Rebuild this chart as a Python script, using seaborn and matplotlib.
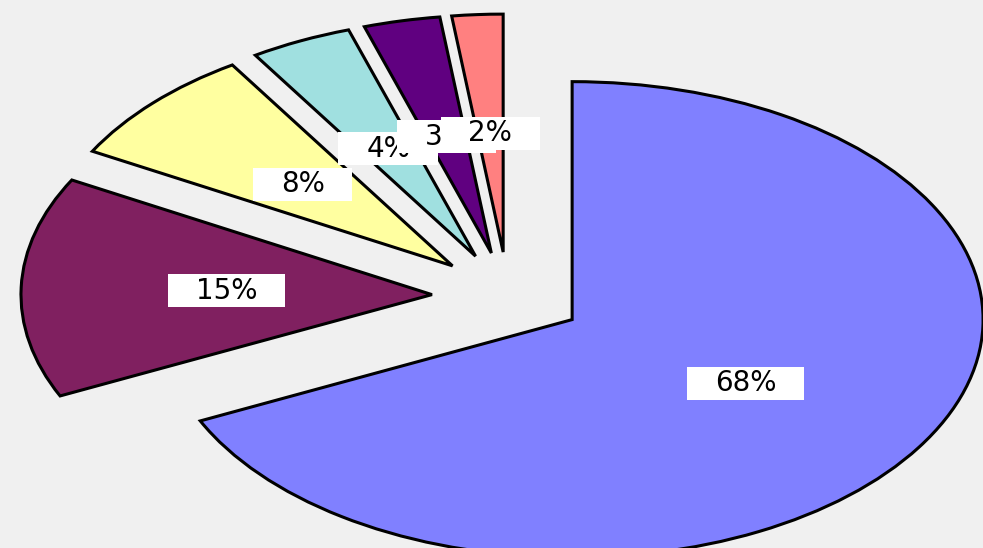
import matplotlib.pyplot as plt
import seaborn as sns
from matplotlib.path import Path

# slice shares (percent), drawn clockwise from 12 o'clock
shares = [68, 15, 8, 4, 3, 2]
slice_colors = ["#8080FF", "#802060", "#FFFFA0", "#A0E0E0", "#600080", "#FF8080"]


def label_box(x0, y0, width, height, mutation_size):
    # wide white box, little vertical padding (old Excel style)
    px, py = 1.0 * mutation_size, 0.09 * mutation_size
    x1, y1 = x0 + width + px, y0 + height + py
    x0, y0 = x0 - px, y0 - py
    return Path([(x0, y0), (x1, y0), (x1, y1), (x0, y1), (x0, y0)], closed=True)


sns.set_style("white")
bg = "#F0F0F0"

fig = plt.figure(figsize=(9.83, 5.48), dpi=100, facecolor=bg)
ax = fig.add_axes([0, 0, 1, 1])
ax.set_facecolor(bg)

wedges, texts, autotexts = ax.pie(
    shares,
    colors=sns.color_palette(slice_colors),
    explode=[0.185] * len(shares),
    startangle=90,
    counterclock=False,
    autopct=lambda p: f"{p:.0f}%",
    pctdistance=0.5,
    wedgeprops=dict(edgecolor="black", linewidth=2.2),
    textprops=dict(fontsize=20, color="black"),
)
for t in autotexts:
    t.set_bbox(dict(boxstyle=label_box, facecolor="white", edgecolor="none"))

# stretch the pie into an ellipse and crop like the original
ax.set_aspect("auto")
ax.set_xlim(-1.236, 1.156)
ax.set_ylim(-1.059, 1.244)
ax.axis("off")

fig.savefig("out.png", dpi=100, facecolor=bg)
